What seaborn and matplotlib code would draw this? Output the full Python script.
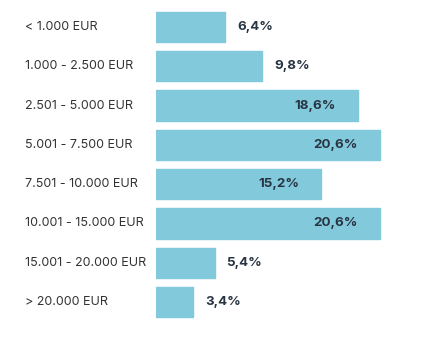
"""
Horizontal bar chart: share by income bracket.
"""

import matplotlib
matplotlib.use("Agg")
import matplotlib.pyplot as plt
import matplotlib.transforms as mtransforms
import seaborn as sns
import pandas as pd

categories = [
    "< 1.000 EUR",
    "1.000 - 2.500 EUR",
    "2.501 - 5.000 EUR",
    "5.001 - 7.500 EUR",
    "7.501 - 10.000 EUR",
    "10.001 - 15.000 EUR",
    "15.001 - 20.000 EUR",
    "> 20.000 EUR",
]
values = [6.4, 9.8, 18.6, 20.6, 15.2, 20.6, 5.4, 3.4]
value_labels = ["6,4%", "9,8%", "18,6%", "20,6%", "15,2%", "20,6%", "5,4%", "3,4%"]

BAR_COLOR = "#82c9dc"
LABEL_COLOR = "#333333"
VALUE_COLOR = "#283442"

sns.set_theme(style="white")
plt.rcParams["font.family"] = ["Inter", "DejaVu Sans"]

df = pd.DataFrame({"category": categories, "value": values})

fig = plt.figure(figsize=(4.48, 3.61), dpi=100)
ax = fig.add_axes([156 / 448, 0.109, 292 / 448, 0.8706])

sns.barplot(data=df, y="category", x="value", orient="h", color=BAR_COLOR,
            saturation=1, width=0.77, ax=ax, edgecolor=BAR_COLOR, linewidth=1.0)
for p in ax.patches:
    p.set_joinstyle("round")

ax.set_xlim(0, 26.9)
ax.set_ylim(len(categories) - 0.5, -0.5)
ax.set_xlabel("")
ax.set_ylabel("")
ax.set_xticks([])
ax.set_yticks([])
sns.despine(ax=ax, left=True, bottom=True)

trans = mtransforms.blended_transform_factory(fig.transFigure, ax.transData)
for i, cat in enumerate(categories):
    ax.text(25 / 448, i, cat, transform=trans, ha="left", va="center",
            fontsize=9.0, color=LABEL_COLOR)

for i, (v, lab) in enumerate(zip(values, value_labels)):
    if v > 12:
        ax.text(v - 2.0, i, lab, ha="right", va="center", fontsize=9.6,
                fontweight="bold", color=VALUE_COLOR)
    else:
        ax.text(v + 1.1, i, lab, ha="left", va="center", fontsize=9.6,
                fontweight="bold", color=VALUE_COLOR)

fig.savefig("out.png", dpi=100)
